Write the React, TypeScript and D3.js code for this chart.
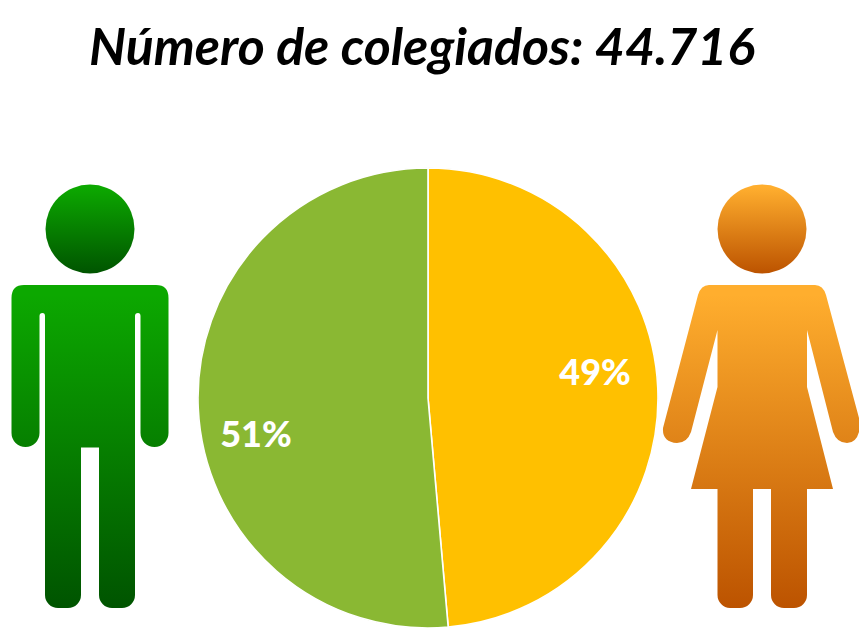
import React from "react";
import * as d3 from "d3";

const genders = ["Mujeres", "Hombres"];
const shares = [0.486, 0.514];
const sliceColors = ["#FFC000", "#8AB833"];
const titleText = "Número de colegiados: 44.716";
const labelNudgeX = [-3, -2];
const labelNudgeY = [-6, 42];

const W = 859, H = 628;
const cx = 428, cy = 398, R = 230;

const malePath = `M24 285 H156 Q168.5 285 168.5 298 V433 A14 14 0 0 1 140.5 433 V316 Q140.5 313 138 313 Q135 313 135 316 V595 A13 13 0 0 1 122 608 H112 A13 13 0 0 1 99 595 V447.5 H81 V595 A13 13 0 0 1 68 608 H58 A13 13 0 0 1 45 595 V316 Q45 313 42.5 313 Q39.5 313 39.5 316 V433 A14 14 0 0 1 11.5 433 V298 Q11.5 285 24 285 Z`;
const femalePath = `M709 285 H815 Q823 285 826 295 L859 418 V432 Q856 443 847 443 Q837 443 833 432 L807 330 V387 L833 489 H807 V595 A13 13 0 0 1 794 608 H784 A13 13 0 0 1 771 595 V489 H753 V595 A13 13 0 0 1 740 608 H730 A13 13 0 0 1 717.5 595 V489 H691 L717.5 387 V330 L691 432 Q687 443 677 443 Q662 442 663 428 L698 295 Q701 285 709 285 Z`;

export default function App() {
  const pie = d3.pie<number>().sort(null).startAngle(0).endAngle(2 * Math.PI);
  const arcs = pie(shares);
  const arc = d3.arc<d3.PieArcDatum<number>>().innerRadius(0).outerRadius(R);
  const labelArc = d3.arc<d3.PieArcDatum<number>>().innerRadius(R * 0.74).outerRadius(R * 0.74);
  const pct = d3.format(".0%");
  return (
    <svg width={W} height={H} viewBox={`0 0 ${W} ${H}`} style={{ position: "absolute", left: 0, top: 0, background: "#fff" }}>
      <defs>
        <linearGradient id="male" x1="0" y1="0" x2="0" y2="1">
          <stop offset="0.03" stopColor="#0CA800" />
          <stop offset="1" stopColor="#005400" />
        </linearGradient>
        <linearGradient id="female" x1="0" y1="0" x2="0" y2="1">
          <stop offset="0.03" stopColor="#FFAE2E" />
          <stop offset="1" stopColor="#BC5300" />
        </linearGradient>
      </defs>
      <text x={422} y={65} textAnchor="middle" fontFamily="Lato, 'Open Sans', sans-serif" fontWeight={700} fontStyle="italic" fontSize={51.8} fill="#000">{titleText}</text>

      <circle cx={90} cy={229} r={44.5} fill="url(#male)" />
      <path d={malePath} fill="url(#male)" />
      <circle cx={762} cy={229} r={44.5} fill="url(#female)" />
      <path d={femalePath} fill="url(#female)" />

      <circle cx={cx} cy={cy} r={R - 0.2} fill="none" stroke="#c8c8c8" strokeWidth={1} />
      <g transform={`translate(${cx},${cy})`}>
        {arcs.map((d, i) => (
          <path key={genders[i]} d={arc(d) ?? ""} fill={sliceColors[i]} stroke="#fff" strokeWidth={1.6} />
        ))}
        {arcs.map((d, i) => {
          const [x, y] = labelArc.centroid(d);
          return (
            <text key={genders[i]} x={x + labelNudgeX[i]} y={y + labelNudgeY[i]} textAnchor="middle" fontFamily="Lato, sans-serif" fontWeight={900} fontSize={36} fill="#fff">{pct(d.data)}</text>
          );
        })}
      </g>
    </svg>
  );
}
